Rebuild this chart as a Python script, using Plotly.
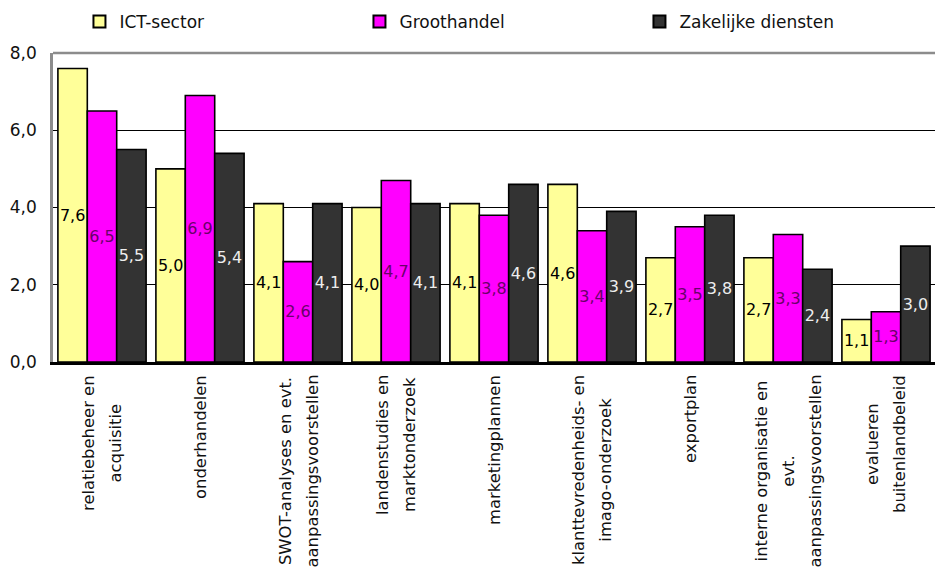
import plotly.graph_objects as go

# Categories (line breaks as they appear under the axis)
categories = [
    "relatiebeheer en<br>acquisitie",
    "onderhandelen",
    "SWOT-analyses en evt.<br>aanpassingsvoorstellen",
    "landenstudies en<br>marktonderzoek",
    "marketingplannen",
    "klanttevredenheids- en<br>imago-onderzoek",
    "exportplan",
    "interne organisatie en<br>evt.<br>aanpassingsvoorstellen",
    "evalueren<br>buitenlandbeleid",
]
ict_sector = [7.6, 5.0, 4.1, 4.0, 4.1, 4.6, 2.7, 2.7, 1.1]
groothandel = [6.5, 6.9, 2.6, 4.7, 3.8, 3.4, 3.5, 3.3, 1.3]
zakelijke_diensten = [5.5, 5.4, 4.1, 4.1, 4.6, 3.9, 3.8, 2.4, 3.0]

series = [
    ("ICT-sector", ict_sector, "#FFFF99", "#000000"),
    ("Groothandel", groothandel, "#FF00FF", "#6A006A"),
    ("Zakelijke diensten", zakelijke_diensten, "#333333", "#EEEEEE"),
]

FONT = "DejaVu Sans"
x_idx = list(range(len(categories)))

fig = go.Figure()
for name, vals, fill, txtcol in series:
    fig.add_trace(go.Bar(
        name=name,
        x=x_idx,
        y=vals,
        marker=dict(color=fill, line=dict(color="#000000", width=1.6)),
        texttemplate="%{y:.1f}",
        textposition="inside",
        insidetextanchor="middle",
        textangle=0,
        constraintext="none",
        textfont=dict(family=FONT, size=16, color=txtcol),
        hoverinfo="skip",
    ))

# Rotated category labels below the axis, centred lines
for i, lab in enumerate(categories):
    fig.add_annotation(
        x=i, y=0, xref="x", yref="paper",
        yshift=-11,
        text=f'<span style="font-size:16.4px">{lab}</span>',
        textangle=-90,
        xanchor="center", yanchor="top",
        align="center",
        showarrow=False,
        font=dict(family=FONT, size=21, color="#111111"),
    )

# Grey frame line along the top of the plot area
fig.add_shape(type="line", xref="paper", yref="paper",
              x0=0, x1=1, y0=1, y1=1,
              line=dict(color="#8C8C8C", width=2.5), layer="above")

fig.update_layout(
    width=935, height=574,
    margin=dict(l=53, r=0, t=53, b=212, autoexpand=False),
    paper_bgcolor="white", plot_bgcolor="white",
    barmode="group", bargap=0.1, bargroupgap=0,
    separators=",.",
    font=dict(family=FONT, size=17, color="#111111"),
    showlegend=True,
    legend=dict(
        orientation="h",
        x=0.03, xanchor="left",
        y=1 + 31 / 309, yanchor="middle",
        entrywidth=235, entrywidthmode="pixels",
        font=dict(family=FONT, size=17, color="#111111"),
        itemsizing="constant",
        bgcolor="rgba(0,0,0,0)",
    ),
    xaxis=dict(
        range=[-0.5, len(categories) - 0.5],
        showticklabels=False, ticks="",
        showgrid=False, zeroline=False,
        showline=True, linecolor="#000000", linewidth=3,
    ),
    yaxis=dict(
        range=[0, 8], dtick=2, tickformat=".1f",
        showgrid=True, gridcolor="#000000", gridwidth=1.2,
        zeroline=False,
        showline=True, linecolor="#8C8C8C", linewidth=2.5,
        ticks="outside", ticklen=10, tickcolor="rgba(0,0,0,0)",
        tickfont=dict(family=FONT, size=17, color="#111111"),
    ),
)

fig.write_html("out.html")
